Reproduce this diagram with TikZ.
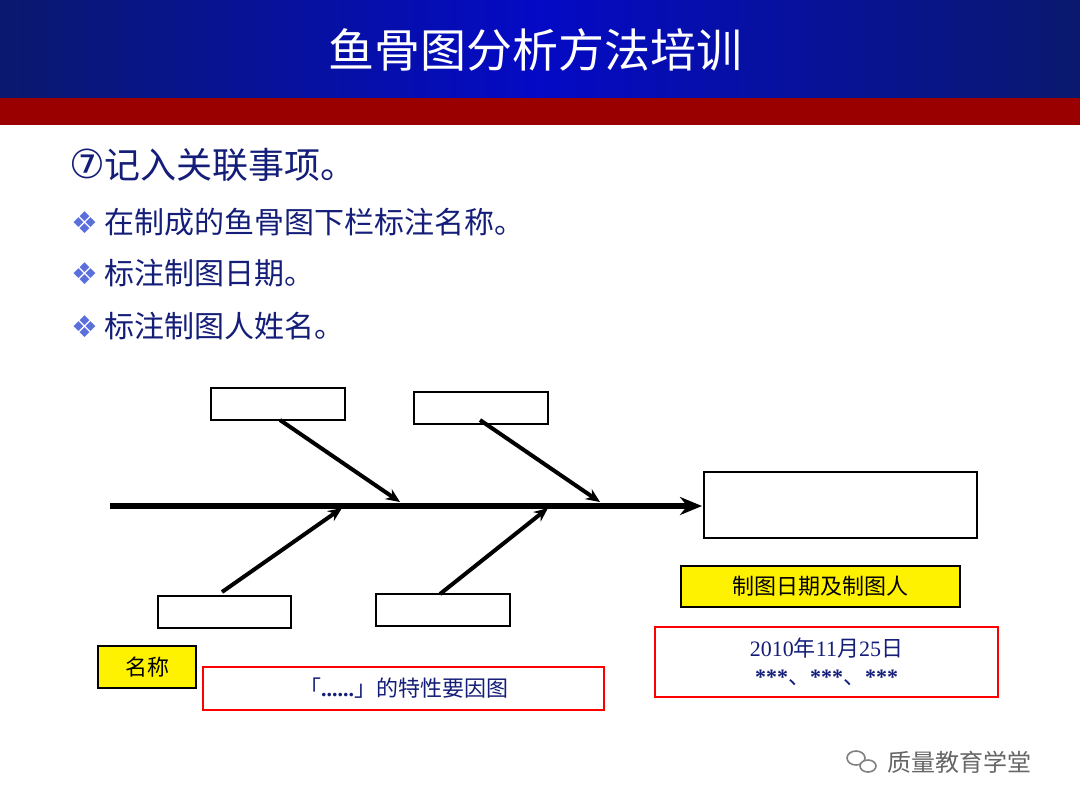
\documentclass[tikz,border=0pt]{standalone}
\usepackage{fontspec}
\newfontfamily\cjk{Noto Sans CJK SC}
\newfontfamily\sym{DejaVu Sans}
\newfontfamily\lat{Liberation Serif}
\usetikzlibrary{arrows.meta}
\definecolor{hdrblue}{RGB}{10,25,110}
\definecolor{hdrred}{RGB}{155,0,0}
\definecolor{txtblue}{RGB}{20,30,120}
\definecolor{bulblue}{RGB}{90,110,220}
\tikzset{
  bone/.style={line width=2pt,-{Stealth[length=7pt,width=6pt]}},
  spine/.style={line width=3pt,-{Stealth[length=11pt,width=9pt]}},
  cause/.style={draw,line width=0.8pt,fill=white},
  tag/.style={draw,line width=0.7pt,fill=yellow,font=\cjk\fontsize{11}{13}\selectfont},
  note/.style={draw=red,line width=0.8pt,font=\cjk\fontsize{11}{14}\selectfont,text=txtblue},
  bullet/.style={anchor=west,font=\cjk\fontsize{15}{18}\selectfont,text=txtblue}
}
\begin{document}
\begin{tikzpicture}[x=0.5pt,y=-0.5pt]
\useasboundingbox (0,0) rectangle (1080,810);
\fill[white] (0,0) rectangle (1080,810);

% Header
\shade[left color=hdrblue,right color=hdrblue,middle color=blue!60!hdrblue] (0,0) rectangle (1080,98);
\fill[hdrred] (0,98) rectangle (1080,125);
\node[text=white,font=\cjk\fontsize{23}{26}\selectfont] (title) at (535,50) {鱼骨图分析方法培训};

% Text
\node[anchor=west,font=\cjk\fontsize{18}{22}\selectfont,text=txtblue] (step) at (62,165) {{\sym\fontsize{20}{22}\selectfont ⑦}记入关联事项。};
\node[bullet] (b1) at (64,222) {{\sym\color{bulblue}❖} 在制成的鱼骨图下栏标注名称。};
\node[bullet] (b2) at (64,273) {{\sym\color{bulblue}❖} 标注制图日期。};
\node[bullet] (b3) at (64,326) {{\sym\color{bulblue}❖} 标注制图人姓名。};

% Fishbone
\node[draw,line width=0.8pt,minimum width=136.5pt,minimum height=33pt] (head) at (840.5,505) {};
\coordinate (tail) at (110,506);
\coordinate (tip) at (702,506);
\draw[spine] (tail) -- (tip);
\node[cause,minimum width=67pt,minimum height=16pt] (c1) at (278,404) {};
\node[cause,minimum width=67pt,minimum height=16pt] (c2) at (481,408) {};
\node[cause,minimum width=66.5pt,minimum height=16pt] (c3) at (224.5,612) {};
\node[cause,minimum width=67pt,minimum height=16pt] (c4) at (443,610) {};
\coordinate (j1) at (400,502);
\coordinate (j2) at (600,502);
\coordinate (j3) at (342,508);
\coordinate (j4) at (548,508);
\draw[bone] (280,420) -- (j1);
\draw[bone] (480,420) -- (j2);
\draw[bone] (222,592) -- (j3);
\draw[bone] (440,594) -- (j4);

% Labels
\node[tag,minimum width=139.5pt,minimum height=20.5pt] (date) at (820.5,586.5) {制图日期及制图人};
\node[note,minimum width=171.5pt,minimum height=35pt,align=center] (who) at (826.5,662) {{\lat 2010}年{\lat 11}月{\lat 25}日\\{\lat\bfseries ***}、{\lat\bfseries ***}、{\lat\bfseries ***}};
\node[tag,minimum width=49pt,minimum height=21pt] (name) at (147,667) {名称};
\node[note,minimum width=200.5pt,minimum height=21.5pt,text=txtblue] (title2) at (403.5,688.5) {「{\lat\bfseries ......}」的特性要因图};

% Watermark
\node[anchor=west,font=\cjk\fontsize{12}{14}\selectfont,text=gray!80!black] (wm) at (880,762) {质量教育学堂};
\draw[gray,line width=0.8pt] (856,758) ellipse (9 and 7);
\draw[gray,line width=0.8pt,fill=white] (868,766) ellipse (8 and 6);
\end{tikzpicture}
\end{document}
